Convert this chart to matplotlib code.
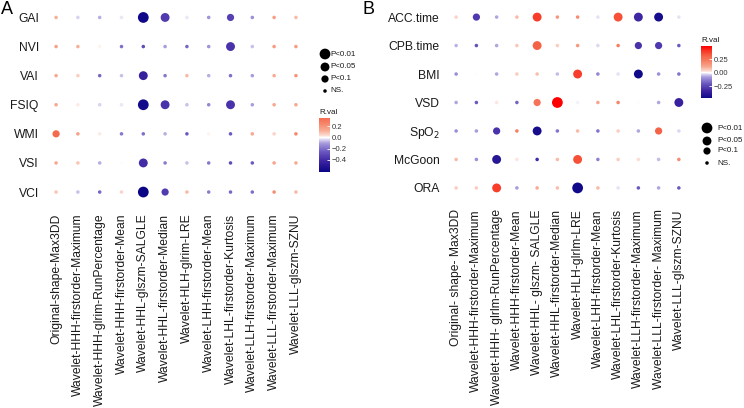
import numpy as np
import matplotlib
matplotlib.use("Agg")
import matplotlib.pyplot as plt
from matplotlib.colors import LinearSegmentedColormap, Normalize
from matplotlib.cm import ScalarMappable

plt.rcParams['font.family'] = ['Liberation Sans', 'DejaVu Sans']

# ---- data ----
features_A = ["Original-shape-Max3DD", "Wavelet-HHH-firstorder-Maximum",
              "Wavelet-HHH-glrim-RunPercentage", "Wavelet-HHH-firstorder-Mean",
              "Wavelet-HHL-glszm-SALGLE", "Wavelet-HHL-firstorder-Median",
              "Wavelet-HLH-glrim-LRE", "Wavelet-LHH-firstorder-Mean",
              "Wavelet-LHL-firstorder-Kurtosis", "Wavelet-LLH-firstorder-Maximum",
              "Wavelet-LLL-firstorder-Maximum", "Wavelet-LLL-glszm-SZNU"]
features_B = ["Original- shape- Max3DD", "Wavelet-HHH-firstorder-Maximum",
              "Wavelet-HHH- glrlm-RunPercentage", "Wavelet-HHH-firstorder-Mean",
              "Wavelet-HHL- glszm- SALGLE", "Wavelet-HHL-firstorder-Median",
              "Wavelet-HLH-glrlm-LRE", "Wavelet-LHH-firstorder-Mean",
              "Wavelet-LHL-firstorder-Kurtosis", "Wavelet-LLH-firstorder-Maximum",
              "Wavelet-LLL-firstorder- Maximum", "Wavelet-LLL-glszm-SZNU"]

traits_A = ["GAI", "NVI", "VAI", "FSIQ", "WMI", "VSI", "VCI"]
traits_B = ["ACC.time", "CPB.time", "BMI", "VSD", "SpO$_2$", "McGoon", "ORA"]

r_A = [[0.12, -0.04, -0.08, -0.02, -0.60, -0.35, -0.02, -0.12, -0.33, -0.13, 0.17, 0.10],
       [0.16, 0.12, 0.01, -0.20, -0.30, -0.10, -0.22, -0.12, -0.38, -0.06, 0.18, 0.18],
       [0.14, 0.06, -0.22, -0.06, -0.45, -0.18, 0.10, -0.08, -0.20, -0.10, 0.13, 0.20],
       [0.14, 0.02, -0.04, -0.02, -0.58, -0.38, -0.06, -0.15, -0.38, -0.10, 0.14, 0.14],
       [0.35, 0.16, 0.02, -0.18, -0.20, -0.08, -0.25, 0.01, -0.25, 0.14, 0.05, 0.24],
       [0.14, 0.08, -0.08, 0.00, -0.40, -0.17, -0.06, -0.18, -0.30, -0.25, 0.15, 0.13],
       [0.08, -0.06, -0.22, 0.05, -0.62, -0.35, 0.10, -0.17, -0.22, -0.20, 0.22, 0.10]]

# significance level: 0 = NS., 1 = P<0.1, 2 = P<0.05, 3 = P<0.01
p_A = [[0, 0, 0, 0, 3, 2, 0, 0, 1, 0, 0, 0],
       [0, 0, 0, 0, 0, 0, 0, 0, 2, 0, 0, 0],
       [0, 0, 0, 0, 2, 0, 0, 0, 0, 0, 0, 0],
       [0, 0, 0, 0, 3, 2, 0, 0, 2, 0, 0, 0],
       [1, 0, 0, 0, 0, 0, 0, 0, 0, 0, 0, 0],
       [0, 0, 0, 0, 2, 0, 0, 0, 0, 0, 0, 0],
       [0, 0, 0, 0, 3, 1, 0, 0, 0, 0, 0, 0]]

r_B = [[0.04, -0.28, -0.07, 0.08, 0.38, 0.15, 0.18, -0.02, 0.35, -0.33, -0.45, -0.02],
       [-0.06, -0.22, -0.07, 0.06, 0.30, 0.05, 0.15, -0.03, 0.22, -0.30, -0.28, -0.20],
       [-0.10, 0.00, -0.07, 0.05, 0.07, -0.05, 0.38, -0.12, -0.02, -0.47, -0.10, -0.15],
       [-0.07, -0.20, 0.02, -0.18, 0.25, 0.49, -0.01, 0.12, 0.20, 0.00, -0.07, -0.35],
       [-0.10, -0.08, -0.30, 0.22, -0.45, -0.15, 0.08, -0.15, 0.05, -0.07, 0.30, -0.03],
       [0.08, -0.10, -0.40, 0.02, -0.32, 0.08, 0.35, -0.13, 0.05, 0.03, -0.05, 0.18],
       [0.05, 0.05, 0.38, -0.08, 0.10, 0.07, -0.47, 0.08, -0.02, -0.20, -0.07, -0.20]]

p_B = [[0, 1, 0, 0, 2, 0, 0, 0, 2, 2, 2, 0],
       [0, 0, 0, 0, 2, 0, 0, 0, 0, 1, 1, 0],
       [0, 0, 0, 0, 0, 0, 2, 0, 0, 2, 0, 0],
       [0, 0, 0, 0, 1, 3, 0, 0, 0, 0, 0, 2],
       [0, 0, 1, 0, 2, 0, 0, 0, 0, 0, 1, 0],
       [0, 0, 2, 0, 0, 0, 2, 0, 0, 0, 0, 0],
       [0, 0, 2, 0, 0, 0, 3, 0, 0, 0, 0, 0]]

p_labels = ["NS.", "P<0.1", "P<0.05", "P<0.01"]
p_sizes = np.array([6.5, 27, 41, 60])  # points^2

# diverging scale: navy - white - red, fairly saturated near zero
cmap = LinearSegmentedColormap.from_list("rval", [
    (0.0, "#0A0585"), (0.15, "#3B22A0"), (0.3, "#6E5AC2"), (0.42, "#A99CDC"),
    (0.47, "#DCD6F2"), (0.5, "#FFFFFF"), (0.53, "#FBDCD2"), (0.6, "#F8AD96"),
    (0.7, "#F6866A"), (0.85, "#F5553A"), (1.0, "#FF0000")])

W, H = 744, 408
fig = plt.figure(figsize=(W / 100, H / 100), dpi=100)


def px(l, t, r, b):
    return [l / W, 1 - b / H, (r - l) / W, (b - t) / H]


def panel(box, r, p, rows, cols, cbox, cticks, ctlabels, lbox, lys, lx, tgap):
    r = np.array(r)
    p = np.array(p)
    m = np.abs(r).max()
    norm = Normalize(-m, m)
    ax = fig.add_axes(px(*box))
    X, Y = np.meshgrid(np.arange(len(cols)), np.arange(len(rows)))
    ax.scatter(X.ravel(), Y.ravel(), c=r.ravel(), s=p_sizes[p.ravel()],
               cmap=cmap, norm=norm, edgecolors="none")
    ax.set_xlim(-0.6, len(cols) - 0.4)
    ax.set_ylim(len(rows) - 0.4, -0.6)
    ax.set_xticks(range(len(cols)))
    ax.set_xticklabels(cols, rotation=90, fontsize=8.7, color="#1a1a1a")
    ax.set_yticks(range(len(rows)))
    ax.set_yticklabels(rows, fontsize=8.7, color="#1a1a1a")
    ax.tick_params(length=0, pad=3)
    for s in ax.spines.values():
        s.set_visible(False)

    # colour bar
    cax = fig.add_axes(px(*cbox))
    sm = ScalarMappable(norm=norm, cmap=cmap)
    cb = fig.colorbar(sm, cax=cax, boundaries=np.linspace(r.min(), r.max(), 200))
    cb.outline.set_visible(False)
    cb.set_ticks(cticks)
    cb.set_ticklabels(ctlabels)
    cax.tick_params(labelsize=5.5, length=2.5, width=0.6, color="white",
                    direction="in", pad=1.5, labelcolor="#333333")
    fig.text(cbox[0] / W, 1 - (cbox[1] - 6) / H, "R.val", fontsize=5.8,
             va="center", ha="left", color="#1a1a1a")

    # size legend
    lax = fig.add_axes(px(*lbox))
    lax.set_xlim(lbox[0], lbox[2])
    lax.set_ylim(lbox[3], lbox[1])
    lax.axis("off")
    order = [3, 2, 1, 0]
    lax.scatter([lx] * 4, lys, s=p_sizes[order], color="black", edgecolors="none")
    for y, k in zip(lys, order):
        lax.text(lx + tgap, y, p_labels[k], fontsize=5.8, va="center", ha="left",
                 color="#1a1a1a")
    return ax


panel((43, 0, 309, 209.5), r_A, p_A, traits_A, features_A,
      (319, 118, 330, 172), [0.2, 0.0, -0.2, -0.4], ["0.2", "0.0", "\u22120.2", "\u22120.4"],
      (315, 45, 370, 100), [54, 67, 79, 91], 325, 5.5)

panel((444, 0, 691, 205), r_B, p_B, traits_B, features_B,
      (701, 46, 712, 98), [0.25, 0.0, -0.25], ["0.25", "0.00", "\u22120.25"],
      (697, 118, 744, 172), [128, 141, 151, 163], 707, 10)

fig.text(1 / W, 1 - 9 / H, "A", fontsize=13, va="center", ha="left")
fig.text(363 / W, 1 - 9 / H, "B", fontsize=13, va="center", ha="left")

fig.savefig("out.png", dpi=100)
